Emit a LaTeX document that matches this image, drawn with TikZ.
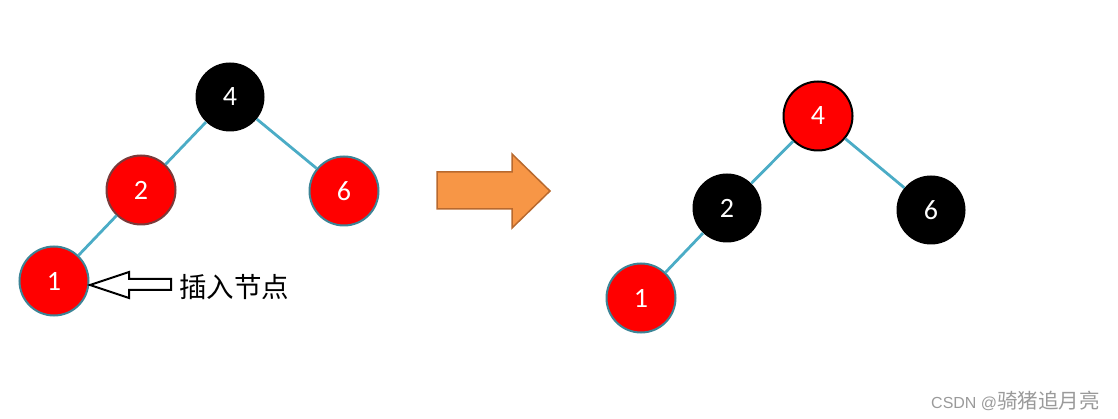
\documentclass[tikz,border=0pt]{standalone}
\usepackage{fontspec}
\setmainfont{Carlito}
\newfontfamily\cjk{Noto Sans CJK SC}
\newfontfamily\wmlatin{Liberation Sans}
\definecolor{edgeteal}{HTML}{4BACC6}
\definecolor{rimteal}{HTML}{3C8496}
\definecolor{rimbrown}{HTML}{7A3A3A}
\definecolor{arrfill}{HTML}{F79646}
\definecolor{arrdraw}{HTML}{B8692E}
\definecolor{wmgray}{HTML}{9A9A9A}
\begin{document}
\begin{tikzpicture}[x=1pt,y=-1pt,
  rb/.style={circle,minimum size=#1,inner sep=0pt,text=white,font=\fontsize{28}{32}\selectfont},
  rb/.default=69pt,
  rednode/.style={rb,fill=red,draw=rimteal,line width=2pt},
  blacknode/.style={rb,fill=black},
  edge/.style={draw=edgeteal,line width=2.8pt}]
\useasboundingbox (0,0) rectangle (1118,419);
% left tree
\node[blacknode] (L4) at (230,97) {4};
\node[rednode,draw=rimbrown] (L2) at (141,190) {2};
\node[rednode] (L6) at (344,191) {6};
\node[rednode] (L1) at (54,281) {1};
\draw[edge] (L4) -- (L2);
\draw[edge] (L4) -- (L6);
\draw[edge] (L2) -- (L1);
% hollow arrow
\coordinate (tip) at (90,285);
\draw[line width=2pt,line join=miter,fill=white]
  (tip) -- (129,272) -- (129,279) -- (171,279) -- (171,290) -- (129,290) -- (129,298) -- cycle;
\node[anchor=west,inner sep=0pt,font=\cjk\fontsize{27.5}{31}\selectfont] (lbl) at (179,287) {插入节点};
% orange arrow
\draw[fill=arrfill,draw=arrdraw,line width=1.5pt,line join=miter]
  (437,172) -- (512,172) -- (512,154) -- (550,191) -- (512,228) -- (512,209) -- (437,209) -- cycle;
% right tree
\node[rednode,draw=black] (R4) at (818,116) {4};
\node[blacknode] (R2) at (727,208) {2};
\node[blacknode] (R6) at (931,210) {6};
\node[rednode] (R1) at (641,298) {1};
\draw[edge] (R4) -- (R2);
\draw[edge] (R4) -- (R6);
\draw[edge] (R2) -- (R1);
% watermark
\node[anchor=west,inner sep=0pt,text=wmgray,font=\fontsize{16}{18}\selectfont] (wm) at (931,401) {\wmlatin CSDN @\cjk\fontsize{20.5}{22}\selectfont 骑猪追月亮};
\end{tikzpicture}
\end{document}
